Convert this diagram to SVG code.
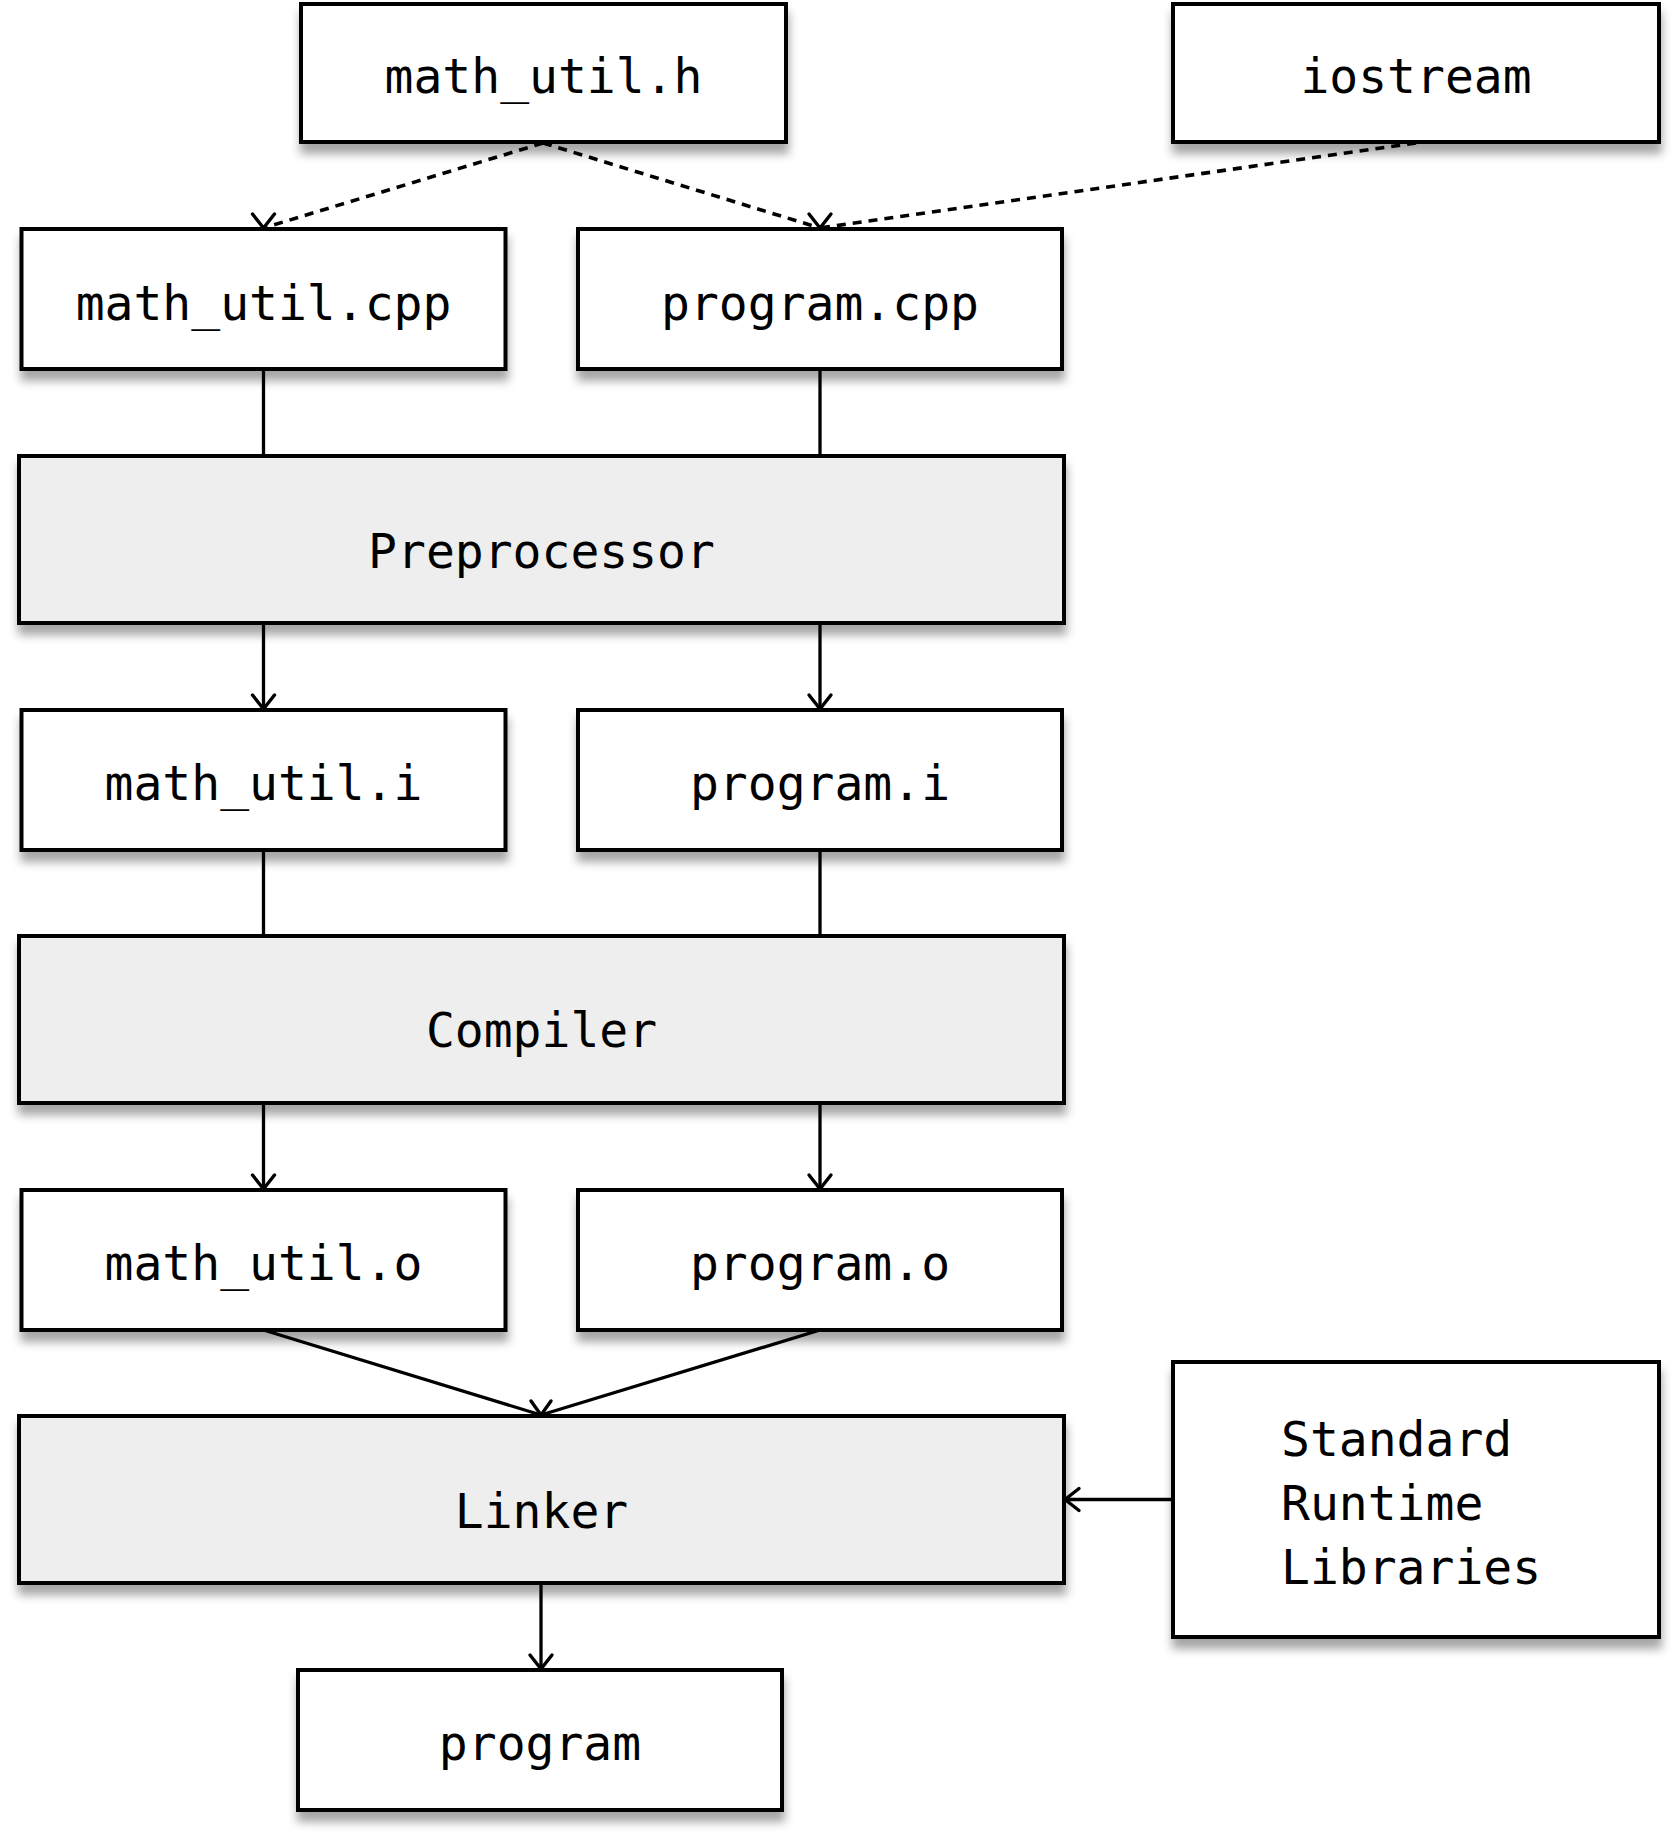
<svg xmlns="http://www.w3.org/2000/svg" width="1674" height="1844" viewBox="0 0 1674 1844">
<style>
.box{fill:#ffffff;stroke:#000000;stroke-width:4}
.proc{fill:#eeeeee;stroke:#000000;stroke-width:4}
.lbl{font-family:"DejaVu Sans Mono","Liberation Mono",monospace;font-size:48px;fill:#000000}
.c{text-anchor:middle}
.line{fill:none;stroke:#000000;stroke-width:3.3}
.dash{fill:none;stroke:#000000;stroke-width:3.6;stroke-dasharray:9 7}
.head{fill:none;stroke:#000000;stroke-width:3.4;stroke-linecap:round;stroke-linejoin:round}
</style>
<defs>
<filter id="sh" x="-10%" y="-20%" width="120%" height="150%">
<feDropShadow dx="1" dy="10" stdDeviation="5" flood-color="#000000" flood-opacity="0.35"/>
</filter>
</defs>
<rect width="1674" height="1844" fill="#ffffff"/>
<g id="connectors">
<line class="dash" x1="543" y1="143" x2="263.5" y2="228"/>
<path class="head" d="M252.5,214 L263.5,228 L274.5,214"/>
<line class="dash" x1="543" y1="143" x2="820" y2="228"/>
<line class="dash" x1="1416" y1="143" x2="820" y2="228"/>
<path class="head" d="M809,214 L820,228 L831,214"/>
<line class="line" x1="263.5" y1="369" x2="263.5" y2="456"/>
<line class="line" x1="820" y1="369" x2="820" y2="456"/>
<line class="line" x1="263.5" y1="623" x2="263.5" y2="709"/>
<path class="head" d="M252.5,695 L263.5,709 L274.5,695"/>
<line class="line" x1="820" y1="623" x2="820" y2="709"/>
<path class="head" d="M809,695 L820,709 L831,695"/>
<line class="line" x1="263.5" y1="850" x2="263.5" y2="936"/>
<line class="line" x1="820" y1="850" x2="820" y2="936"/>
<line class="line" x1="263.5" y1="1103" x2="263.5" y2="1189"/>
<path class="head" d="M252.5,1175 L263.5,1189 L274.5,1175"/>
<line class="line" x1="820" y1="1103" x2="820" y2="1189"/>
<path class="head" d="M809,1175 L820,1189 L831,1175"/>
<line class="line" x1="263.5" y1="1330" x2="541" y2="1415"/>
<line class="line" x1="820" y1="1330" x2="541" y2="1415"/>
<path class="head" d="M531,1401 L541,1415 L551,1401"/>
<line class="line" x1="541" y1="1583" x2="541" y2="1669"/>
<path class="head" d="M530,1655 L541,1669 L552,1655"/>
<line class="line" x1="1173" y1="1499.5" x2="1065" y2="1499.5"/>
<path class="head" d="M1079,1488.5 L1065,1499.5 L1079,1510.5"/>
</g>
<g id="math_util_h">
<rect class="box" filter="url(#sh)" x="301" y="4" width="485" height="138"/>
<text class="lbl c" x="543.5" y="93">math_util.h</text>
</g>
<g id="iostream">
<rect class="box" filter="url(#sh)" x="1173" y="4" width="486" height="138"/>
<text class="lbl c" x="1416" y="93">iostream</text>
</g>
<g id="math_util_cpp">
<rect class="box" filter="url(#sh)" x="21.5" y="229" width="484" height="140"/>
<text class="lbl c" x="263.5" y="320">math_util.cpp</text>
</g>
<g id="program_cpp">
<rect class="box" filter="url(#sh)" x="578" y="229" width="484" height="140"/>
<text class="lbl c" x="820" y="320">program.cpp</text>
</g>
<g id="preprocessor">
<rect class="proc" filter="url(#sh)" x="19" y="456" width="1045" height="167"/>
<text class="lbl c" x="541.5" y="568">Preprocessor</text>
</g>
<g id="math_util_i">
<rect class="box" filter="url(#sh)" x="21.5" y="710" width="484" height="140"/>
<text class="lbl c" x="263.5" y="800">math_util.i</text>
</g>
<g id="program_i">
<rect class="box" filter="url(#sh)" x="578" y="710" width="484" height="140"/>
<text class="lbl c" x="820" y="800">program.i</text>
</g>
<g id="compiler">
<rect class="proc" filter="url(#sh)" x="19" y="936" width="1045" height="167"/>
<text class="lbl c" x="541.5" y="1047">Compiler</text>
</g>
<g id="math_util_o">
<rect class="box" filter="url(#sh)" x="21.5" y="1190" width="484" height="140"/>
<text class="lbl c" x="263.5" y="1280">math_util.o</text>
</g>
<g id="program_o">
<rect class="box" filter="url(#sh)" x="578" y="1190" width="484" height="140"/>
<text class="lbl c" x="820" y="1280">program.o</text>
</g>
<g id="linker">
<rect class="proc" filter="url(#sh)" x="19" y="1416" width="1045" height="167"/>
<text class="lbl c" x="541.5" y="1528">Linker</text>
</g>
<g id="program">
<rect class="box" filter="url(#sh)" x="298" y="1670" width="484" height="140"/>
<text class="lbl c" x="540" y="1760">program</text>
</g>
<g id="standard_runtime_libraries">
<rect class="box" filter="url(#sh)" x="1173" y="1362" width="486" height="275"/>
<text class="lbl" x="1281" y="1456">Standard</text>
<text class="lbl" x="1281" y="1520">Runtime</text>
<text class="lbl" x="1281" y="1584">Libraries</text>
</g>
</svg>
